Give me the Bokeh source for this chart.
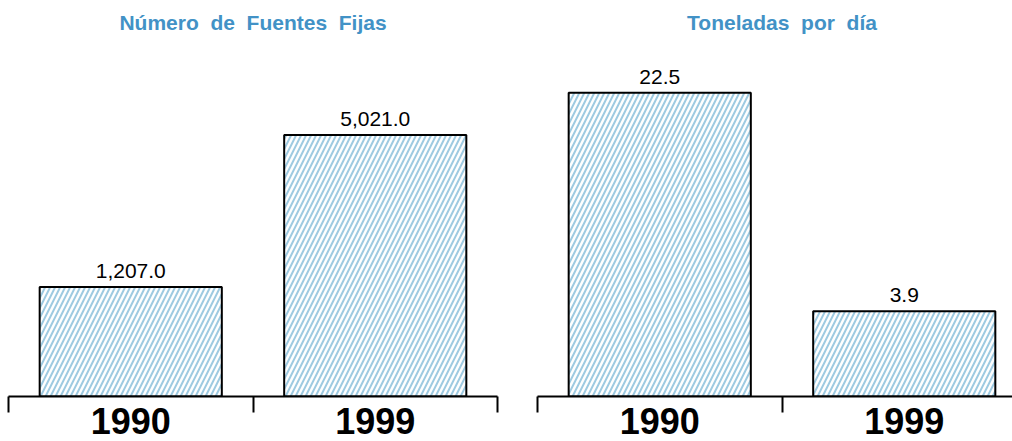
from bokeh.plotting import figure
from bokeh.models import ColumnDataSource, FixedTicker, Label, LabelSet, Range1d
from bokeh.core.properties import value
from bokeh.layouts import row
from bokeh.embed import file_html
from bokeh.resources import INLINE

years = ["1990", "1999"]
fuentes = [1207.0, 5021.0]
toneladas = [22.5, 3.9]
titles = ["Número \u00a0de \u00a0Fuentes \u00a0Fijas", "Toneladas \u00a0por \u00a0día"]

TITLE_COLOR = "#4292c6"
HATCH_COLOR = "#9ecae1"
FONT = "Liberation Sans"


def panel(values, title, y_start, y_end, x_end, width, border_left, border_right):
    xs = [i + 0.5 for i in range(len(years))]
    src = ColumnDataSource(dict(
        x=xs, top=values, lab=[f"{v:,.1f}" for v in values]))
    p = figure(width=width, height=441, output_backend="svg", toolbar_location=None,
               x_range=Range1d(0, x_end), y_range=Range1d(y_start, y_end),
               y_axis_location=None, min_border_left=border_left,
               min_border_right=border_right, min_border_top=8, min_border_bottom=45)
    p.outline_line_color = None
    p.grid.visible = False
    p.vbar(x="x", top="top", bottom=y_start, width=0.745, source=src,
           fill_color="white", line_color="black", line_width=2,
           hatch_pattern="/", hatch_color=HATCH_COLOR, hatch_scale=10, hatch_weight=2)
    labels = LabelSet(x="x", y="top", text="lab", source=src, y_offset=9,
                      text_align="center", text_baseline="alphabetic",
                      text_font=value(FONT), text_font_size=value("21px"),
                      text_color="black")
    p.add_layout(labels)
    ax = p.xaxis[0]
    ax.ticker = FixedTicker(ticks=xs, minor_ticks=list(range(len(years) + 1)))
    ax.major_label_overrides = {x: y for x, y in zip(xs, years)}
    ax.major_tick_in = 0
    ax.major_tick_out = 0
    ax.minor_tick_in = 0
    ax.minor_tick_out = 16
    ax.minor_tick_line_width = 2
    ax.minor_tick_line_color = "black"
    ax.axis_line_width = 2
    ax.axis_line_color = "black"
    ax.major_label_text_font = FONT
    ax.major_label_text_font_style = "bold"
    ax.major_label_text_font_size = "36px"
    ax.major_label_text_color = "black"
    ax.major_label_standoff = -5
    t = Label(x=1.0, y=374, y_units="screen", text=title, text_align="center",
              text_baseline="middle", text_font=FONT, text_font_style="bold",
              text_font_size="21px", text_color=TITLE_COLOR)
    p.add_layout(t)
    return p


left = panel(fuentes, titles[0], -1541, 8195, 2, 517, 8, 20)
right = panel(toneladas, titles[1], -3.36, 29.68, 475 / 244.5, 495, 20, 0)

layout = row(left, right)
open("out.html", "w").write(file_html(layout, INLINE))
